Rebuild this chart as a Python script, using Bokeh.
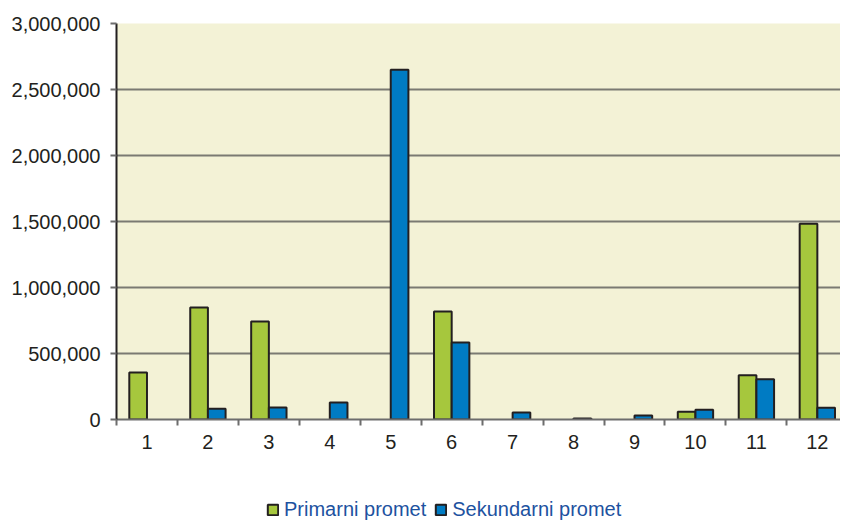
from bokeh.plotting import figure
from bokeh.layouts import column
from bokeh.models import (ColumnDataSource, Range1d, FixedTicker, NumeralTickFormatter,
                          Legend, LegendItem)
from bokeh.transform import dodge
from bokeh.embed import file_html
from bokeh.resources import INLINE

nan = float("nan")
categories = [1, 2, 3, 4, 5, 6, 7, 8, 9, 10, 11, 12]
primarni = [356000, 848000, 742000, nan, nan, 818000, nan, nan, nan, 58000, 336000, 1483000]
sekundarni = [nan, 81000, 91000, 129000, 2650000, 583000, 53000, 8000, 30000, 73000, 305000, 89000]
y_ticks = [0, 500000, 1000000, 1500000, 2000000, 2500000, 3000000]
series_names = ["Primarni promet", "Sekundarni promet"]

GREEN = "#a6c73d"
BLUE = "#007bc3"
EDGE = "#231f20"
TXT = "#231f20"
FONT = "Liberation Sans"

src = ColumnDataSource(dict(x=categories, p=primarni, s=sekundarni))

p = figure(width=840, height=458, output_backend="svg", toolbar_location=None,
           x_range=Range1d(0.5, 12.38), y_range=Range1d(0, 3000000),
           min_border_left=116, min_border_right=0, min_border_top=23,
           min_border_bottom=39)
p.outline_line_color = None
p.background_fill_color = "#f3f2d6"
p.border_fill_color = "white"

bw = 0.29
bar_style = dict(width=bw, line_color=EDGE, line_width=2)
r1 = p.vbar(x=dodge("x", -bw / 2, range=p.x_range), top="p", source=src,
            fill_color=GREEN, **bar_style)
r2 = p.vbar(x=dodge("x", bw / 2, range=p.x_range), top="s", source=src,
            fill_color=BLUE, **bar_style)

# x axis
xa = p.xaxis[0]
xa.ticker = FixedTicker(ticks=categories, minor_ticks=[c + 0.5 for c in [0] + categories])
xa.major_tick_line_color = None
xa.major_tick_out = 6
xa.major_tick_in = 0
xa.minor_tick_out = 6
xa.minor_tick_in = 0
xa.minor_tick_line_color = "#6d6d6d"
xa.minor_tick_line_width = 2
xa.axis_line_color = "#6d6d6d"
xa.axis_line_width = 2
xa.major_label_text_font = FONT
xa.major_label_text_font_size = "20px"
xa.major_label_text_color = TXT
xa.major_label_standoff = 9

# y axis
ya = p.yaxis[0]
ya.ticker = FixedTicker(ticks=y_ticks, minor_ticks=[])
ya.formatter = NumeralTickFormatter(format="0,0")
ya.major_tick_out = 6
ya.major_tick_in = 0
ya.major_tick_line_color = "#6d6d6d"
ya.major_tick_line_width = 2
ya.axis_line_color = "#231f20"
ya.axis_line_width = 2
ya.major_label_text_font = FONT
ya.major_label_text_font_size = "20px"
ya.major_label_text_color = TXT
ya.major_label_standoff = 10

p.xgrid.grid_line_color = None
p.ygrid.grid_line_color = "#7a7a72"
p.ygrid.grid_line_width = 2

# legend strip below the chart; its swatch renderers hold a single undrawn row
swatch = ColumnDataSource(dict(x=[nan], p=[nan], s=[nan]))
p2 = figure(width=840, height=63, output_backend="svg", toolbar_location=None,
            x_range=Range1d(0, 1), y_range=Range1d(0, 1),
            x_axis_location=None, y_axis_location=None,
            min_border_left=0, min_border_right=0, min_border_top=0, min_border_bottom=0)
p2.outline_line_color = None
p2.grid.grid_line_color = None
l1 = p2.vbar(x="x", top="p", source=swatch, fill_color=GREEN, **bar_style)
l2 = p2.vbar(x="x", top="s", source=swatch, fill_color=BLUE, **bar_style)

legend = Legend(items=[LegendItem(label=series_names[0], renderers=[l1]),
                       LegendItem(label=series_names[1], renderers=[l2])],
                location=(150, 0), orientation="horizontal",
                label_text_font=FONT, label_text_font_size="20px",
                label_text_color="#1d52a0", glyph_width=13, glyph_height=13,
                label_standoff=5, spacing=8, padding=0, margin=0,
                border_line_color=None, background_fill_alpha=0)
p2.add_layout(legend, "center")

open("out.html", "w").write(file_html(column(p, p2, spacing=0), INLINE))
